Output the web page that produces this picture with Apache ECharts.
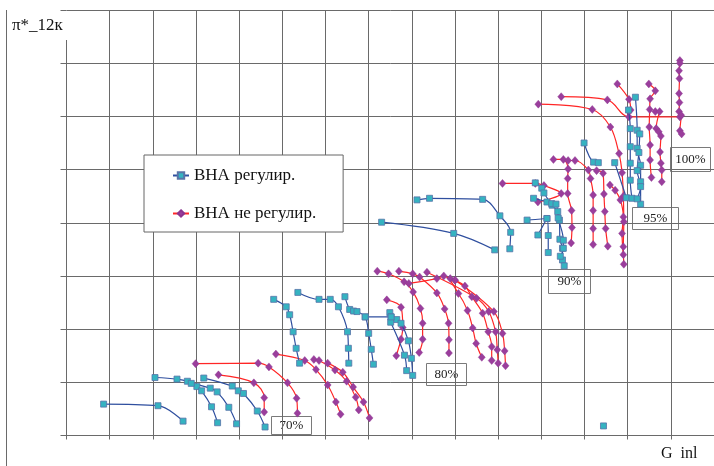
<!DOCTYPE html>
<html>
<head>
<meta charset="utf-8">
<script src="https://cdn.jsdelivr.net/npm/echarts@6/dist/echarts.min.js"></script>
<style>
  html, body { margin: 0; padding: 0; background: #fff; }
  #chart { width: 714px; height: 466px; }
</style>
</head>
<body>
<div id="chart"></div>
<script>
// Series names (legend)
const nameReg = 'ВНА регулир.';
const nameFree = 'ВНА не регулир.';

// Axis titles and speed labels
const yTitle = 'π*_12к';
const xTitle = 'G  inl';
const speedLabels = ['70%', '80%', '90%', '95%', '100%'];

// ---- ВНА регулир. : characteristics [G, π] ----
const b70a = [[0.86,0.59],[2.12,0.56],[2.70,0.27]];
const b70b = [[2.05,1.09],[2.56,1.06],[2.80,1.02],[3.02,0.92],[3.13,0.84],[3.36,0.54],[3.50,0.24]];
const b70c = [[2.89,0.98],[3.33,0.89],[3.49,0.82],[3.76,0.53],[3.94,0.22]];
const b70d = [[3.18,1.08],[3.84,0.93],[3.98,0.84],[4.10,0.79],[4.42,0.46],[4.60,0.16]];

const b80a = [[4.80,2.56],[5.09,2.42],[5.17,2.27],[5.25,1.95],[5.32,1.64],[5.40,1.36]];
const b80b = [[5.36,2.69],[5.85,2.56],[6.11,2.56],[6.30,2.42],[6.51,1.95],[6.53,1.64],[6.54,1.36]];
const b80c = [[6.45,2.61],[6.56,2.37],[6.65,2.34],[6.73,2.33],[6.92,2.23],[7.00,1.92],[7.06,1.62],[7.11,1.34]];
const b80d = [[7.49,2.31],[7.52,2.23],[7.65,2.18],[7.75,2.11],[7.92,1.78],[7.99,1.45],[8.02,1.13]];
const b80e = [[7.51,2.13],[7.83,1.51],[7.88,1.22]];
const b80f = [[6.92,2.23],[7.52,2.23]];

const b90a = [[8.12,4.43],[8.41,4.46],[9.64,4.44],[10.04,4.13],[10.29,3.82],[10.27,3.51]];
const b90b = [[7.30,4.01],[8.97,3.80],[9.92,3.49]];
const b90c = [[10.86,4.75],[11.01,4.65],[11.06,4.56],[11.25,4.33],[11.38,4.21],[11.42,4.05],[11.43,3.69],[11.49,3.52],[11.49,3.30],[11.53,3.19]];
const b90d = [[10.82,4.46],[11.13,4.39],[11.24,4.36],[11.34,4.35],[11.39,4.09],[11.51,3.67],[11.51,3.52],[11.44,3.37]];
const b90e = [[10.67,4.05],[11.13,4.08],[11.16,3.76],[11.16,3.44]];
const b90f = [[11.13,4.08],[10.92,3.77]];

const b95a = [[11.99,5.50],[12.21,5.14],[12.32,5.13]];
const b95b = [[12.70,5.13],[12.97,4.47]];

const b100a = [[13.02,6.12],[13.06,5.77],[13.06,5.43],[13.06,5.12],[13.06,4.80],[13.10,4.46]];
const b100b = [[13.18,6.36],[13.22,5.74],[13.22,5.40],[13.30,5.08],[13.30,4.77],[13.30,4.35]];
const b100c = [[13.28,5.67],[13.26,5.32],[13.22,4.98],[13.30,4.68],[13.22,4.45]];

const bSingle = [[12.44,0.18]];

// ---- ВНА не регулир. : characteristics [G, π] ----
const r70a = [[2.99,1.35],[4.44,1.36],[4.69,1.29],[5.12,0.99],[5.33,0.70],[5.35,0.42]];
const r70b = [[3.52,1.14],[4.34,0.99],[4.58,0.71],[4.58,0.44]];
const r70c = [[4.85,1.53],[5.52,1.41],[5.78,1.24],[6.05,0.95],[6.24,0.63],[6.35,0.40]];
const r70d = [[5.73,1.43],[5.85,1.41],[6.22,1.23],[6.49,1.02],[6.70,0.72],[6.77,0.48]];
const r70e = [[6.05,1.36],[6.40,1.19],[6.64,0.91],[6.88,0.63],[7.02,0.33]];

const r80a = [[7.42,2.55],[7.75,2.41],[7.79,2.03],[7.75,1.81],[7.64,1.50]];
const r80b = [[7.20,3.09],[7.46,3.04],[7.82,2.89],[8.03,2.70],[8.20,2.39],[8.25,2.11],[8.25,1.81],[8.17,1.56]];
const r80c = [[7.70,3.09],[8.02,3.04],[8.18,2.98],[8.58,2.68],[8.76,2.38],[8.85,2.11],[8.86,1.80],[8.86,1.55]];
const r80d = [[7.93,2.86],[8.58,2.95],[8.74,3.00],[9.08,2.67],[9.29,2.35],[9.41,2.02],[9.49,1.73],[9.62,1.47]];
const r80e = [[8.89,2.95],[9.00,2.92],[9.23,2.81],[9.39,2.61],[9.64,2.30],[9.77,1.95],[9.85,1.67],[9.85,1.41]];
const r80f = [[8.35,3.07],[9.50,2.58],[9.78,2.33],[9.94,1.95],[9.98,1.61],[10.00,1.36]];
const r80g = [[9.00,2.92],[9.90,2.33],[10.10,1.92],[10.15,1.59],[10.17,1.31]];

const r90a = [[10.10,4.74],[10.86,4.74],[11.06,4.70],[11.46,4.55],[10.92,4.39]];
const r90b = [[11.28,5.19],[11.51,5.19],[11.62,5.01],[11.61,4.83],[11.61,4.55],[11.70,4.23],[11.71,3.91],[11.69,3.62]];
const r90c = [[11.62,5.17],[11.78,5.17],[12.09,4.99],[12.14,4.83],[12.20,4.52],[12.20,4.23],[12.20,3.89],[12.20,3.59]];
const r90d = [[12.28,4.98],[12.43,4.93],[12.45,4.54],[12.47,4.21],[12.49,3.89],[12.54,3.56]];

const r95a = [[10.93,6.23],[12.18,6.13],[12.60,5.80],[12.80,5.30],[12.87,4.94],[12.90,4.50],[12.91,4.02],[12.90,3.55],[12.91,3.22]];
const r95b = [[12.59,4.71],[12.71,4.61],[12.83,4.43],[12.90,4.11],[12.87,3.80],[12.90,3.40]];

const r100a = [[11.46,6.37],[12.53,6.31],[13.03,5.99],[14.21,5.99]];
const r100c = [[12.76,6.61],[13.03,6.32],[13.07,6.12]];
const r100d = [[13.49,6.61],[13.64,6.48],[13.52,6.33],[13.51,6.13],[13.50,5.80],[13.52,5.46],[13.52,5.18],[13.55,4.85]];
const r100e = [[13.64,6.09],[13.74,6.09],[13.66,5.77],[13.72,5.71],[13.77,5.63],[13.75,5.33],[13.77,5.12],[13.79,4.99],[13.79,4.77]];
const r100f = [[14.21,7.05],[14.21,7.00],[14.19,6.86],[14.20,6.71],[14.19,6.43],[14.20,6.26],[14.19,6.09],[14.24,6.02],[14.21,5.73],[14.25,5.67]];

const regulated = [b70a,b70b,b70c,b70d,b80a,b80b,b80c,b80d,b80e,b80f,
  b90a,b90b,b90c,b90d,b90e,b90f,b95a,b95b,b100a,b100b,b100c,bSingle];
const unregulated = [r70a,r70b,r70c,r70d,r70e,r80a,r80b,r80c,r80d,r80e,r80f,r80g,
  r90a,r90b,r90c,r90d,r95a,r95b,r100a,r100c,r100d,r100e,r100f];

const SERIF = '"Liberation Serif", "DejaVu Serif", serif';
const GRID_COLOR = '#6a6a6a';

function curve(name, data, isReg) {
  return {
    type: 'line',
    name: name,
    data: data,
    smooth: 0.35,
    showAllSymbol: true,
    symbol: isReg ? 'rect' : 'diamond',
    symbolSize: isReg ? 6 : [7, 8],
    lineStyle: { color: isReg ? '#2f4f9f' : '#ff2626', width: 1.2 },
    itemStyle: isReg
      ? { color: '#35b3c1', borderColor: '#5874a8', borderWidth: 0.8 }
      : { color: '#9a3e9c', borderColor: '#8a3590', borderWidth: 0.4 },
    emphasis: { disabled: true },
    z: isReg ? 3 : 2
  };
}

const series = [];
regulated.forEach(d => series.push(curve(nameReg, d, true)));
unregulated.forEach(d => series.push(curve(nameFree, d, false)));

// framed speed tags: [text, left, top, width, height]
const tags = [
  [speedLabels[0], 271, 416, 40, 18],
  [speedLabels[1], 426, 363, 40, 22],
  [speedLabels[2], 548, 269, 42, 24],
  [speedLabels[3], 632, 207, 46, 22],
  [speedLabels[4], 670, 147, 40, 24]
];
const graphics = [];
tags.forEach(t => {
  graphics.push({
    type: 'group', left: t[1], top: t[2], z: 20,
    children: [
      { type: 'rect', shape: { x: 0, y: 0, width: t[3], height: t[4] },
        style: { fill: '#fff', stroke: '#7a7a7a', lineWidth: 1 } },
      { type: 'text', x: t[3] / 2, y: t[4] / 2,
        style: { text: t[0], fill: '#222', font: '13px ' + SERIF, align: 'center', verticalAlign: 'middle' } }
    ]
  });
});
// left frame line and vertical axis line
graphics.push({ type: 'line', z: 1, shape: { x1: 6.5, y1: 10, x2: 6.5, y2: 466 }, style: { stroke: GRID_COLOR, lineWidth: 1 } });
graphics.push({ type: 'line', z: 1, shape: { x1: 66.5, y1: 40, x2: 66.5, y2: 436 }, style: { stroke: GRID_COLOR, lineWidth: 1 } });
// axis titles
graphics.push({ type: 'text', left: 12, top: 17, z: 20, style: { text: yTitle, fill: '#111', font: '17px ' + SERIF } });
graphics.push({ type: 'text', left: 661, top: 446, z: 20, style: { text: xTitle, fill: '#111', font: '16px ' + SERIF } });

const chart = echarts.init(document.getElementById('chart'), null, { renderer: 'canvas' });
chart.setOption({
  animation: false,
  backgroundColor: '#fff',
  grid: { left: 66.5, top: 10, width: 652.5, height: 425.5, containLabel: false },
  xAxis: {
    type: 'value', min: 0, max: 15, interval: 1,
    axisLine: { show: true, lineStyle: { color: GRID_COLOR, width: 1 } },
    axisTick: { show: true, length: 4, lineStyle: { color: GRID_COLOR } },
    axisLabel: { show: false },
    splitLine: { show: true, showMinLine: false, lineStyle: { color: GRID_COLOR, width: 1 } }
  },
  yAxis: {
    type: 'value', min: 0, max: 8, interval: 1,
    axisLine: { show: false },
    axisTick: { show: true, length: 6, lineStyle: { color: GRID_COLOR } },
    axisLabel: { show: false },
    splitLine: { show: true, lineStyle: { color: GRID_COLOR, width: 1 } }
  },
  legend: {
    data: [nameReg, nameFree],
    orient: 'vertical',
    left: 144, top: 155,
    padding: [12, 27, 10, 28],
    itemGap: 21,
    itemWidth: 16, itemHeight: 8,
    backgroundColor: '#fff',
    borderColor: '#666', borderWidth: 1,
    textStyle: { fontFamily: SERIF, fontSize: 17, color: '#111' },
    selectedMode: false
  },
  series: series,
  graphic: graphics
});
</script>
</body>
</html>
